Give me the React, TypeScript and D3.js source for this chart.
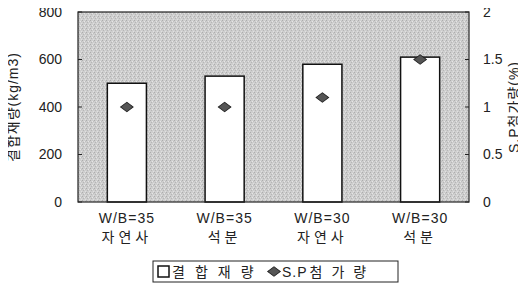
import { useEffect, useRef } from 'react';
import * as d3 from 'd3';

const categories = ['W/B=35|자연사', 'W/B=35|석분', 'W/B=30|자연사', 'W/B=30|석분'];
const binderValues = [500, 530, 580, 610];
const spValues = [1.0, 1.0, 1.1, 1.5];
const leftTicks = [0, 200, 400, 600, 800];
const rightTicks = [0, 0.5, 1, 1.5, 2];

export default function App() {
  const ref = useRef<SVGSVGElement>(null);

  useEffect(() => {
    const svg = d3.select(ref.current);
    svg.selectAll('*').remove();

    const width = 526, height = 295;
    const margin = { top: 12, right: 57, bottom: 93, left: 78 };
    const innerW = width - margin.left - margin.right;
    const innerH = height - margin.top - margin.bottom;
    const font = '"Liberation Sans", Arial, "Noto Sans CJK KR", sans-serif';

    // stipple texture for the plot background
    const defs = svg.append('defs');
    const pat = defs.append('pattern').attr('id', 'stip').attr('width', 4).attr('height', 4)
      .attr('patternUnits', 'userSpaceOnUse');
    pat.append('rect').attr('width', 4).attr('height', 4).attr('fill', '#cecece');
    [[0, 0, '#adadad'], [2, 1, '#e6e6e6'], [1, 2, '#b6b6b6'], [3, 3, '#e0e0e0'], [3, 1, '#c0c0c0']].forEach(([x, y, c]) =>
      pat.append('rect').attr('x', x).attr('y', y).attr('width', 1).attr('height', 1).attr('fill', c as string));

    const g = svg.append('g').attr('transform', `translate(${margin.left},${margin.top})`);

    const x = d3.scaleBand().domain(categories).range([0, innerW]).paddingInner(0.6).paddingOuter(0.3);
    const yL = d3.scaleLinear().domain([0, 800]).range([innerH, 0]);
    const yR = d3.scaleLinear().domain([0, 2]).range([innerH, 0]);

    g.append('rect').attr('width', innerW).attr('height', innerH).attr('fill', 'url(#stip)');

    g.selectAll('.bar').data(binderValues).enter().append('rect')
      .attr('x', (d, i) => x(categories[i])!)
      .attr('y', d => yL(d))
      .attr('width', x.bandwidth())
      .attr('height', d => innerH - yL(d))
      .attr('fill', '#ffffff')
      .attr('stroke', '#111')
      .attr('stroke-width', 1.5);

    g.append('rect').attr('width', innerW).attr('height', innerH)
      .attr('fill', 'none').attr('stroke', '#222').attr('stroke-width', 1.2);

    // left axis
    leftTicks.forEach(t => {
      g.append('line').attr('x1', 0).attr('x2', 4).attr('y1', yL(t)).attr('y2', yL(t)).attr('stroke', '#222');
      g.append('text').attr('x', -16).attr('y', yL(t)).attr('dy', '0.35em').attr('text-anchor', 'end')
        .attr('font-family', font).attr('font-size', 14).attr('fill', '#222').text(t);
    });
    // right axis
    rightTicks.forEach(t => {
      g.append('line').attr('x1', innerW - 4).attr('x2', innerW).attr('y1', yR(t)).attr('y2', yR(t)).attr('stroke', '#222');
      g.append('text').attr('x', innerW + 14).attr('y', yR(t)).attr('dy', '0.35em').attr('text-anchor', 'start')
        .attr('font-family', font).attr('font-size', 14).attr('fill', '#222').text(t);
    });

    // diamonds
    const diamond = d3.symbol().type(d3.symbolSquare).size(72);
    g.selectAll('.pt').data(spValues).enter().append('path')
      .attr('d', diamond()!)
      .attr('transform', (d, i) => `translate(${x(categories[i])! + x.bandwidth() / 2},${yR(d)}) scale(1.05,0.8) rotate(45)`)
      .attr('fill', '#555')
      .attr('stroke', '#222')
      .attr('stroke-width', 1);

    // category labels
    categories.forEach(c => {
      const [a, b] = c.split('|');
      const cx = x(c)! + x.bandwidth() / 2;
      g.append('text').attr('x', cx).attr('y', innerH + 21).attr('text-anchor', 'middle')
        .attr('font-family', font).attr('font-size', 14).attr('letter-spacing', 1).attr('fill', '#222').text(a);
      g.append('text').attr('x', cx).attr('y', innerH + 40).attr('text-anchor', 'middle')
        .attr('font-family', font).attr('font-size', 14).attr('letter-spacing', 4).attr('fill', '#222').text(b);
    });

    // axis titles
    svg.append('text').attr('transform', `translate(18,${margin.top + innerH / 2}) rotate(-90)`)
      .attr('text-anchor', 'middle').attr('font-family', font).attr('font-size', 14)
      .attr('letter-spacing', 1).attr('fill', '#222')
      .text('결합재량(kg/m3)');
    svg.append('text').attr('transform', `translate(519,${margin.top + innerH / 2}) rotate(-90)`)
      .attr('text-anchor', 'middle').attr('font-family', font).attr('font-size', 14)
      .attr('letter-spacing', 1).attr('fill', '#222')
      .text('S.P첨가량(%)');

    // legend
    const lg = svg.append('g').attr('transform', 'translate(153,261)');
    lg.append('rect').attr('width', 245).attr('height', 21).attr('fill', '#fff').attr('stroke', '#222');
    lg.append('rect').attr('x', 5).attr('y', 5).attr('width', 11).attr('height', 11)
      .attr('fill', '#fff').attr('stroke', '#111').attr('stroke-width', 1.5);
    lg.append('text').attr('x', 19).attr('y', 15.5).attr('font-family', font).attr('font-size', 14)
      .attr('letter-spacing', 10).attr('fill', '#222').text('결합재량');
    lg.append('path').attr('d', diamond()!)
      .attr('transform', 'translate(121,10.5) scale(1.05,0.8) rotate(45)')
      .attr('fill', '#555').attr('stroke', '#222');
    lg.append('text').attr('x', 129).attr('y', 15.5).attr('font-family', font).attr('font-size', 14)
      .attr('fill', '#222')
      .call(t => {
        t.append('tspan').attr('letter-spacing', 1).text('S.P');
        t.append('tspan').attr('dx', 2).attr('letter-spacing', 9).text('첨가량');
      });
  }, []);

  return (
    <div style={{ margin: -8 }}>
      <svg ref={ref} width={526} height={295} style={{ display: 'block', background: '#fff' }} />
    </div>
  );
}
